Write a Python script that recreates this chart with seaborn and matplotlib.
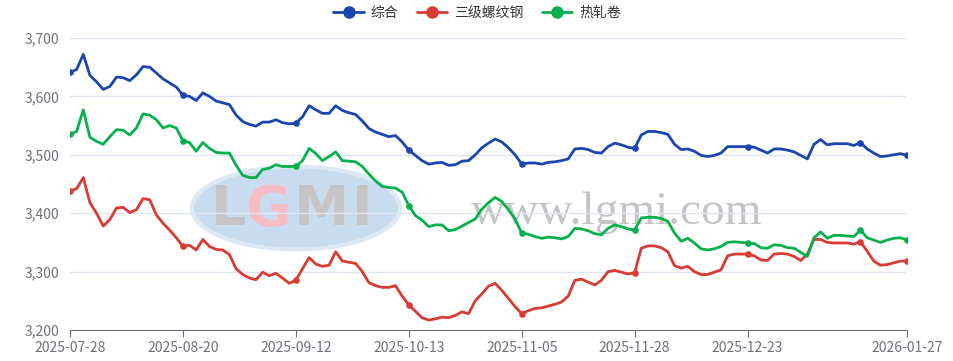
import numpy as np
import pandas as pd
import seaborn as sns
import matplotlib.pyplot as plt
from matplotlib.lines import Line2D
from matplotlib.patches import Ellipse

# 交易日（含调休工作日）
dates = pd.bdate_range("2025-07-28", "2026-01-27")
holidays = pd.to_datetime(["2025-10-01", "2025-10-02", "2025-10-03", "2025-10-06",
                           "2025-10-07", "2025-10-08", "2026-01-01", "2026-01-02"])
extra_days = pd.to_datetime(["2025-09-28", "2025-10-11", "2026-01-04"])
dates = dates.difference(holidays).union(extra_days)
date_labels = [d.strftime("%Y-%m-%d") for d in dates]

series_names = ["综合", "三级螺纹钢", "热轧卷"]
colors = ["#1b45ae", "#d83a34", "#07b04d"]

composite = [3641, 3646, 3672, 3636, 3625, 3612, 3617, 3633, 3632, 3627,
             3637, 3651, 3650, 3640, 3630, 3623, 3616, 3602, 3600, 3593,
             3606, 3600, 3592, 3589, 3586, 3568, 3557, 3552, 3549, 3556,
             3556, 3560, 3555, 3553, 3554, 3565, 3584, 3577, 3571, 3571,
             3584, 3576, 3572, 3569, 3558, 3545, 3539, 3535, 3531, 3533,
             3522, 3508, 3499, 3490, 3484, 3486, 3487, 3482, 3483, 3489,
             3490, 3500, 3512, 3520, 3527, 3522, 3512, 3500, 3484, 3486,
             3486, 3484, 3487, 3488, 3490, 3493, 3510, 3511, 3509, 3504,
             3503, 3514, 3520, 3517, 3513, 3511, 3534, 3540, 3540, 3538,
             3535, 3518, 3509, 3510, 3506, 3499, 3497, 3499, 3503, 3514,
             3514, 3514, 3514, 3513, 3508, 3503, 3510, 3510, 3508, 3505,
             3499, 3493, 3518, 3526, 3517, 3519, 3519, 3519, 3516, 3521,
             3510, 3503, 3497, 3498, 3500, 3502, 3499]

rebar = [3438, 3442, 3461, 3418, 3400, 3378, 3389, 3409, 3410, 3401,
         3406, 3425, 3423, 3397, 3383, 3371, 3358, 3343, 3345, 3337,
         3355, 3343, 3338, 3337, 3329, 3305, 3295, 3289, 3286, 3299,
         3293, 3297, 3289, 3280, 3285, 3305, 3324, 3313, 3309, 3311,
         3334, 3318, 3316, 3314, 3300, 3281, 3276, 3273, 3273, 3276,
         3258, 3243, 3232, 3221, 3217, 3219, 3222, 3221, 3225, 3231,
         3228, 3250, 3262, 3275, 3280, 3268, 3254, 3240, 3228, 3233,
         3237, 3238, 3241, 3244, 3248, 3258, 3285, 3287, 3282, 3277,
         3285, 3300, 3302, 3299, 3296, 3298, 3340, 3344, 3344, 3341,
         3334, 3310, 3306, 3309, 3300, 3295, 3295, 3299, 3303, 3327,
         3330, 3330, 3330, 3327, 3320, 3319, 3330, 3331, 3330, 3326,
         3319, 3330, 3355, 3355, 3350, 3349, 3349, 3349, 3347, 3351,
         3335, 3318, 3311, 3312, 3315, 3318, 3318]

hot_coil = [3535, 3540, 3577, 3530, 3523, 3518, 3531, 3543, 3542, 3534,
            3546, 3570, 3568, 3560, 3546, 3550, 3546, 3524, 3521, 3506,
            3521, 3511, 3504, 3503, 3503, 3482, 3465, 3461, 3461, 3475,
            3477, 3483, 3480, 3480, 3480, 3490, 3511, 3502, 3490, 3497,
            3505, 3490, 3489, 3488, 3480, 3467, 3455, 3446, 3444, 3443,
            3436, 3413, 3396, 3388, 3377, 3380, 3380, 3370, 3372, 3378,
            3384, 3390, 3407, 3418, 3427, 3420, 3406, 3390, 3366, 3364,
            3360, 3357, 3359, 3358, 3356, 3360, 3374, 3373, 3370, 3365,
            3363, 3374, 3380, 3377, 3373, 3371, 3392, 3393, 3393, 3391,
            3386, 3366, 3352, 3357, 3349, 3339, 3337, 3339, 3343, 3350,
            3351, 3350, 3349, 3348, 3341, 3340, 3346, 3345, 3341, 3340,
            3333, 3326, 3358, 3368, 3357, 3362, 3362, 3361, 3360, 3371,
            3358, 3354, 3350, 3354, 3357, 3358, 3354]

tick_idx = [0, 17, 34, 51, 68, 85, 102, 126]
dot_idx = [0, 17, 34, 51, 68, 85, 102, 119, 126]

n = len(date_labels)
df = pd.DataFrame({
    "idx": np.tile(np.arange(n), 3),
    "value": composite + rebar + hot_coil,
    "series": np.repeat(series_names, n),
})

sns.set_style("white")
plt.rcParams["font.family"] = ["Noto Sans CJK SC", "DejaVu Sans"]

fig = plt.figure(figsize=(9.54, 3.61), dpi=100)
ax = fig.add_axes([70 / 954, 1 - 330 / 361, 837 / 954, 292 / 361])
ax.set_zorder(2)
ax.patch.set_alpha(0)

# 水印（放在坐标轴下面）
fig.patches.append(Ellipse((296 / 954, 1 - 208 / 361), 208 / 954, 83 / 361,
                           transform=fig.transFigure, facecolor="#c9dbef",
                           edgecolor="#dde8f4", lw=3, zorder=-2))
for ch, xp, col in [("L", 229, "#c6c4c4"), ("G", 268, "#f6bcc4"),
                    ("M", 322, "#c6c4c4"), ("I", 362, "#c6c4c4")]:
    fig.text(xp / 954, 1 - 210 / 361, ch, fontsize=40, fontweight="bold",
             color=col, ha="center", va="center", family="DejaVu Sans", zorder=-1)
fig.text(617 / 954, 1 - 213 / 361, "www.lgmi.com", fontsize=34, color="#c4c4c4",
         ha="center", va="center", family="Liberation Serif", zorder=-1)

sns.lineplot(data=df, x="idx", y="value", hue="series", palette=colors,
             hue_order=series_names, linewidth=2, legend=False, ax=ax, zorder=3)
for vals, c in zip([composite, rebar, hot_coil], colors):
    ax.scatter(dot_idx, [vals[i] for i in dot_idx], s=14, color=c, zorder=4)

ax.set_xlim(0, n - 1)
ax.set_ylim(3200, 3700)
ax.set_yticks([3200, 3300, 3400, 3500, 3600, 3700])
ax.set_yticklabels([f"{v:,}" for v in range(3200, 3701, 100)])
ax.set_xticks(tick_idx)
ax.set_xticklabels([date_labels[i] for i in tick_idx])
ax.set_xlabel("")
ax.set_ylabel("")
ax.grid(axis="y", color="#e0e6f1", lw=1)
ax.grid(axis="x", visible=False)
for s in ["top", "right", "left"]:
    ax.spines[s].set_visible(False)
ax.spines["bottom"].set_color("#6e7079")
ax.tick_params(axis="x", length=5, color="#6e7079", labelcolor="#6e7079",
               labelsize=10, pad=3, bottom=True)
ax.tick_params(axis="y", length=0, labelcolor="#6e7079", labelsize=10, pad=8)

handles = [Line2D([], [], color=c, lw=2, marker="o", markersize=8) for c in colors]
fig.legend(handles, series_names, loc="center", bbox_to_anchor=(0.5, 1 - 13 / 361),
           ncol=3, frameon=False, fontsize=10, handlelength=2.2,
           handletextpad=0.5, columnspacing=1.3, labelcolor="#333333")

fig.savefig("out.png", dpi=100)
